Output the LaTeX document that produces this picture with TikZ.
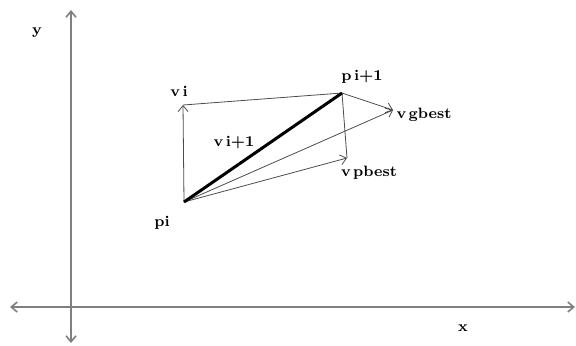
\documentclass[tikz,border=0pt]{standalone}
\usetikzlibrary{arrows.meta}
\tikzset{vec/.style={black!70,-{Straight Barb[length=3pt,width=5pt]}},
  axis/.style={gray,line width=0.8pt,{Straight Barb[length=3pt,width=5pt]}-{Straight Barb[length=3pt,width=5pt]}},
  lbl/.style={font=\fontsize{7.5}{9}\selectfont\bfseries}}
\begin{document}
\begin{tikzpicture}[x=0.5pt,y=-0.5pt]
\useasboundingbox (0,0) rectangle (576,345);
% axes
\coordinate (xl) at (10,307);
\coordinate (xr) at (575,307);
\coordinate (yt) at (71,10);
\coordinate (yb) at (71,343);
\draw[axis] (xl) -- (xr);
\draw[axis] (yb) -- (yt);
\node[lbl] (ylab) at (37,33) {y};
\node[lbl] (xlab) at (463,328) {x};
% points
\coordinate (pi) at (184,202);
\coordinate (pnext) at (342,93);
\coordinate (vi) at (183,105);
\coordinate (vg) at (393,110);
\coordinate (vp) at (347,158);
\draw[vec] (pi) -- (vi);
\draw[black!70] (vi) -- (pnext);
\draw[vec] (pi) -- (vg);
\draw[vec] (pi) -- (vp);
\draw[vec] (pnext) -- (vg);
\draw[black!70] (pnext) -- (vp);
\draw[line width=1.5pt] (pi) -- (pnext);
% labels
\node[lbl] (pilab) at (162,223) {pi};
\node[lbl] (vilab) at (179,91) {v\,i};
\node[lbl] (pnlab) at (362,77) {p\,i+1};
\node[lbl] (vnlab) at (234,143) {v\,i+1};
\node[lbl] (vglab) at (424,115) {v\,gbest};
\node[lbl] (vplab) at (369,173) {v\,pbest};
\end{tikzpicture}
\end{document}
